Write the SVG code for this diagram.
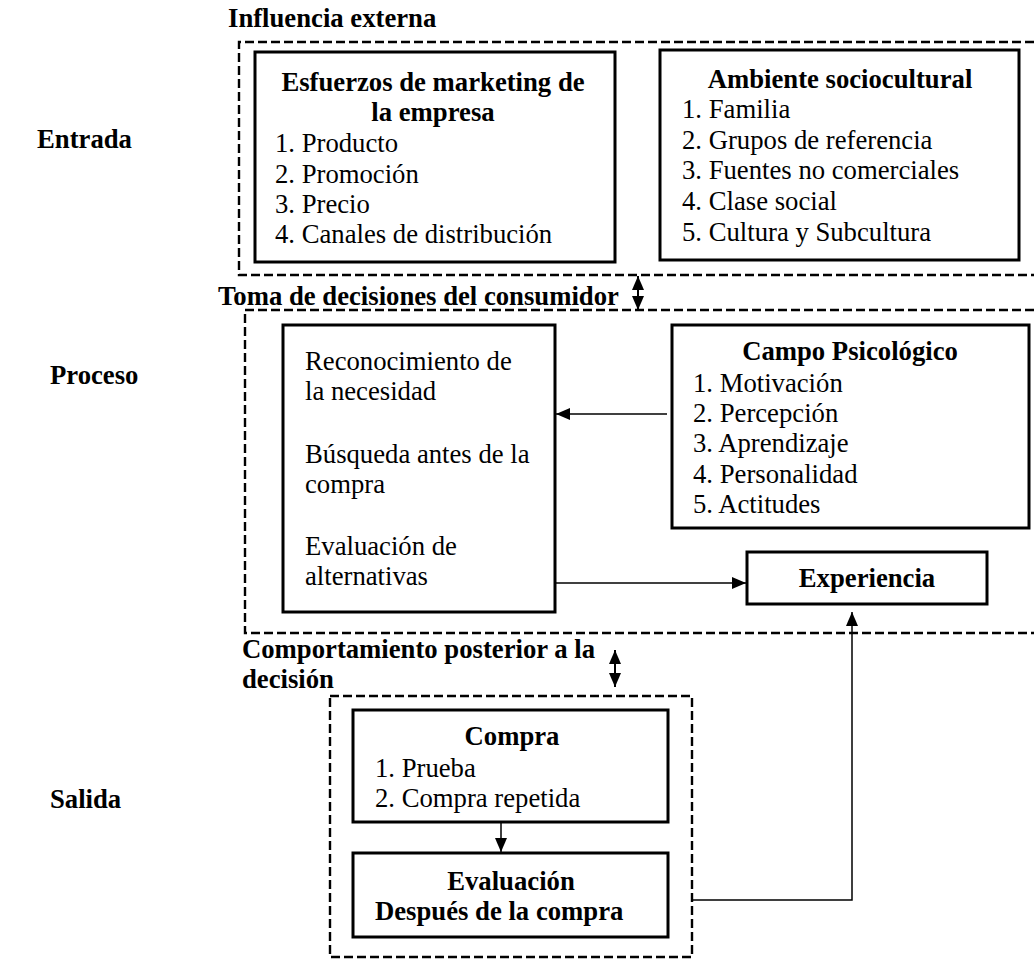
<svg xmlns="http://www.w3.org/2000/svg" width="1034" height="959" viewBox="0 0 1034 959">
<style>
text{font-family:"Liberation Serif","Times New Roman",serif;font-size:26.7px;fill:#000}
.b{font-weight:bold}
.c{text-anchor:middle}
.box{fill:#fff;stroke:#000;stroke-width:3}
.dash{fill:none;stroke:#000;stroke-width:2.4;stroke-dasharray:9 4}
.ln{fill:none;stroke:#000;stroke-width:1.5}
.dbl{fill:none;stroke:#000;stroke-width:2}
</style>
<defs>
<marker id="ah" viewBox="0 0 14 12" refX="14" refY="6" markerWidth="14" markerHeight="12" markerUnits="userSpaceOnUse" orient="auto-start-reverse">
<path d="M0,0 L14,6 L0,12 z" fill="#000"/>
</marker>
</defs>
<g id="labels">
<text class="b" x="37" y="148">Entrada</text>
<text class="b" x="50" y="384">Proceso</text>
<text class="b" x="50" y="808">Salida</text>
</g>
<g id="group-influencia">
<text class="b" x="228" y="27">Influencia externa</text>
<path class="dash" d="M1034,42 H239 V275 H1034"/>
</g>
<g id="group-toma">
<text class="b" x="218" y="305">Toma de decisiones del consumidor</text>
<path class="dash" d="M1034,310 H245 V633 H1034"/>
</g>
<g id="group-comportamiento">
<text class="b" x="242" y="658">Comportamiento posterior a la</text>
<text class="b" x="242" y="688">decisión</text>
<rect class="dash" x="330" y="696" width="362" height="261"/>
</g>
<g id="node-esfuerzos">
<rect class="box" x="255" y="52" width="360" height="210"/>
<text class="b c" x="433" y="91">Esfuerzos de marketing de</text>
<text class="b c" x="433" y="121">la empresa</text>
<text x="275" y="152">1. Producto</text>
<text x="275" y="183">2. Promoción</text>
<text x="275" y="213">3. Precio</text>
<text x="275" y="243">4. Canales de distribución</text>
</g>
<g id="node-ambiente">
<rect class="box" x="660" y="50" width="359" height="210"/>
<text class="b c" x="840" y="88">Ambiente sociocultural</text>
<text x="682" y="118">1. Familia</text>
<text x="682" y="149">2. Grupos de referencia</text>
<text x="682" y="179">3. Fuentes no comerciales</text>
<text x="682" y="210">4. Clase social</text>
<text x="682" y="241">5. Cultura y Subcultura</text>
</g>
<g id="node-reconocimiento">
<rect class="box" x="283" y="325" width="272" height="287"/>
<text x="305" y="370">Reconocimiento de</text>
<text x="305" y="400">la necesidad</text>
<text x="305" y="463">Búsqueda antes de la</text>
<text x="305" y="493">compra</text>
<text x="305" y="555">Evaluación de</text>
<text x="305" y="585">alternativas</text>
</g>
<g id="node-campo">
<rect class="box" x="672" y="325" width="357" height="203"/>
<text class="b c" x="850" y="360">Campo Psicológico</text>
<text x="693" y="392">1. Motivación</text>
<text x="693" y="422">2. Percepción</text>
<text x="693" y="452">3. Aprendizaje</text>
<text x="693" y="483">4. Personalidad</text>
<text x="693" y="513">5. Actitudes</text>
</g>
<g id="node-experiencia">
<rect class="box" x="747" y="552" width="240" height="52"/>
<text class="b c" x="867" y="587">Experiencia</text>
</g>
<g id="node-compra">
<rect class="box" x="353" y="710" width="315" height="112"/>
<text class="b c" x="512" y="745">Compra</text>
<text x="375" y="777">1. Prueba</text>
<text x="375" y="807">2. Compra repetida</text>
</g>
<g id="node-evaluacion">
<rect class="box" x="353" y="853" width="315" height="84"/>
<text class="b c" x="511" y="890">Evaluación</text>
<text class="b" x="375" y="920">Después de la compra</text>
</g>
<g id="connectors">
<line class="dbl" x1="638" y1="276" x2="638" y2="310" marker-start="url(#ah)" marker-end="url(#ah)"/>
<line class="dbl" x1="615" y1="650" x2="615" y2="687" marker-start="url(#ah)" marker-end="url(#ah)"/>
<line class="ln" x1="667" y1="414" x2="556" y2="414" marker-end="url(#ah)"/>
<line class="ln" x1="555" y1="583" x2="746" y2="583" marker-end="url(#ah)"/>
<line class="ln" x1="501" y1="822" x2="501" y2="852" marker-end="url(#ah)"/>
<polyline class="ln" points="692,900 852,900 852,612" marker-end="url(#ah)"/>
</g>
</svg>
